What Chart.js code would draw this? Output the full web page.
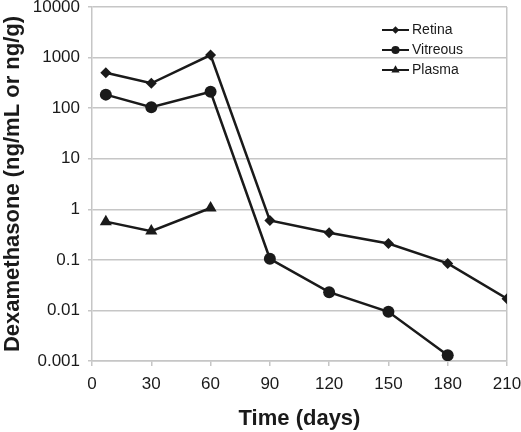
<!DOCTYPE html>
<html>
<head>
<meta charset="utf-8">
<script src="https://cdn.jsdelivr.net/npm/chart.js@4"></script>
<style>
  html, body { margin: 0; padding: 0; background: #fff; }
  #wrap { width: 521px; height: 432px; }
</style>
</head>
<body>
<div id="wrap"><canvas id="chart" width="521" height="432"></canvas></div>
<script>
// values
const retinaDays = [7, 30, 60, 90, 120, 150, 180, 210];
const retina = [500, 310, 1120, 0.6, 0.345, 0.21, 0.085, 0.017];
const vitreousDays = [7, 30, 60, 90, 120, 150, 180];
const vitreous = [185, 104, 210, 0.105, 0.023, 0.0094, 0.0013];
const plasmaDays = [7, 30, 60];
const plasma = [0.57, 0.37, 1.06];
const yTicks = [0.001, 0.01, 0.1, 1, 10, 100, 1000, 10000];
const yTickLabels = ["0.001", "0.01", "0.1", "1", "10", "100", "1000", "10000"];

const ink = "#1a1a1a";
const gridGray = "#c6c6c6";
const fontFamily = "'Liberation Sans', Arial, sans-serif";

const toPoints = (xs, ys) => xs.map((x, i) => ({ x, y: ys[i] }));

const seriesStyle = (pointStyle, radius) => ({
    borderColor: ink,
    backgroundColor: ink,
    borderWidth: 2.5,
    pointStyle,
    pointRadius: radius,
    pointBorderWidth: 0,
    pointBackgroundColor: ink,
    tension: 0
});

const datasets = [
    { label: "Retina", data: toPoints(retinaDays, retina), ...seriesStyle("rectRot", 5.5) },
    { label: "Vitreous", data: toPoints(vitreousDays, vitreous), ...seriesStyle("circle", 6) },
    { label: "Plasma", data: toPoints(plasmaDays, plasma), ...seriesStyle("triangle", 7) }
];

// small legend box drawn inside the plot, top right
const insideLegend = {
    id: "insideLegend",
    afterDraw(chart) {
        const ctx = chart.ctx;
        const x0 = 382, x1 = 409, top = 30, step = 20;
        ctx.save();
        chart.data.datasets.forEach((ds, i) => {
            const y = top + i * step;
            ctx.strokeStyle = ink;
            ctx.lineWidth = 2;
            ctx.beginPath();
            ctx.moveTo(x0, y);
            ctx.lineTo(x1, y);
            ctx.stroke();
            ctx.fillStyle = ink;
            Chart.helpers.drawPoint(ctx, {
                pointStyle: ds.pointStyle,
                radius: ds.pointRadius * 0.68,
                rotation: 0,
                borderWidth: 0
            }, (x0 + x1) / 2, y);
            ctx.fillStyle = ink;
            ctx.font = "14px " + fontFamily;
            ctx.textBaseline = "middle";
            ctx.textAlign = "left";
            ctx.fillText(ds.label, x1 + 3, y);
        });
        ctx.restore();
    }
};

new Chart(document.getElementById("chart"), {
    type: "line",
    data: { datasets },
    options: {
        responsive: false,
        animation: false,
        layout: { padding: 0 },
        plugins: {
            legend: { display: false },
            tooltip: { enabled: false }
        },
        scales: {
            x: {
                type: "linear",
                min: 0,
                max: 210,
                ticks: {
                    stepSize: 30,
                    color: ink,
                    padding: 8,
                    font: { family: fontFamily, size: 17 }
                },
                grid: {
                    drawOnChartArea: true,
                    color: (c) => (c.tick && c.tick.value === 210 ? gridGray : "rgba(0,0,0,0)"),
                    tickColor: gridGray,
                    tickLength: 5,
                    lineWidth: 1.5
                },
                border: { color: gridGray, width: 1.5 },
                title: {
                    display: true,
                    text: "Time (days)",
                    color: ink,
                    padding: { top: 0, bottom: 0 },
                    font: { family: fontFamily, size: 22, weight: "bold" }
                },
                afterFit(scale) {
                    scale.height = 71;
                    scale.paddingLeft = 0;
                    scale.paddingRight = 14;
                }
            },
            y: {
                type: "logarithmic",
                min: 0.001,
                max: 10000,
                afterBuildTicks(scale) {
                    scale.ticks = yTicks.map((v) => ({ value: v }));
                },
                ticks: {
                    color: ink,
                    padding: 8,
                    autoSkip: false,
                    font: { family: fontFamily, size: 17 },
                    callback: (value) => {
                        const idx = yTicks.findIndex((t) => Math.abs(t - value) / t < 1e-6);
                        return idx >= 0 ? yTickLabels[idx] : "";
                    }
                },
                grid: {
                    color: gridGray,
                    tickColor: gridGray,
                    tickLength: 4,
                    lineWidth: 1.5
                },
                border: { color: gridGray, width: 1.5 },
                title: {
                    display: true,
                    text: "Dexamethasone (ng/mL or ng/g)",
                    color: ink,
                    padding: { top: 0, bottom: 0 },
                    font: { family: fontFamily, size: 22, weight: "bold" }
                },
                afterFit(scale) {
                    scale.width = 92;
                    scale.paddingTop = 7;
                    scale.paddingBottom = 0;
                }
            }
        }
    },
    plugins: [insideLegend]
});
</script>
</body>
</html>
